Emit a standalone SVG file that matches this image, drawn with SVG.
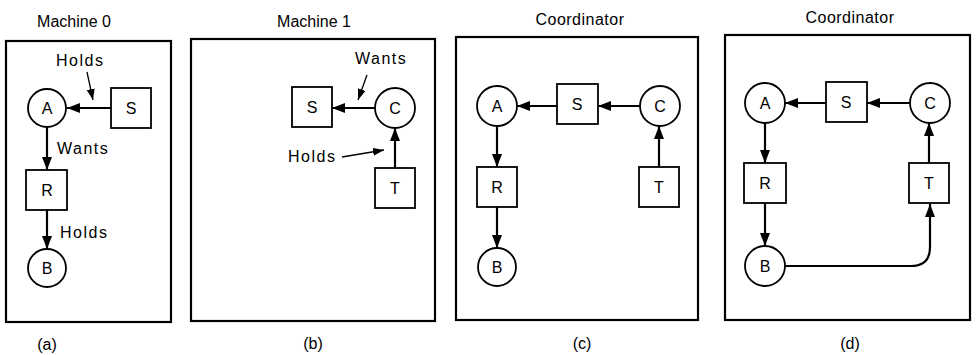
<svg xmlns="http://www.w3.org/2000/svg" width="977" height="355" viewBox="0 0 977 355">
<defs>
<marker id="ah" viewBox="0 0 13 10" refX="13" refY="5" markerWidth="13" markerHeight="10" markerUnits="userSpaceOnUse" orient="auto">
<path d="M0,0 L13,5 L0,10 Z" fill="#000"/>
</marker>
<marker id="ap" viewBox="0 0 11 8" refX="11" refY="4" markerWidth="11" markerHeight="8" markerUnits="userSpaceOnUse" orient="auto">
<path d="M0,0 L11,4 L0,8 Z" fill="#000"/>
</marker>
</defs>
<style>
text{font-family:"Liberation Sans",Arial,sans-serif;fill:#000}
.t{font-size:16px;text-anchor:middle}
.n{font-size:16px;text-anchor:middle;dominant-baseline:central}
.l{font-size:16px;letter-spacing:1.5px}
.frame{fill:#fff;stroke:#000;stroke-width:2.2}
.nd{fill:#fff;stroke:#000;stroke-width:1.8}
.e{fill:none;stroke:#000;stroke-width:2.2;marker-end:url(#ah)}
.p{fill:none;stroke:#000;stroke-width:1.3;marker-end:url(#ap)}
</style>
<rect width="977" height="355" fill="#fff"/>

<g id="panel-a">
<text class="t" x="74" y="27">Machine 0</text>
<rect class="frame" x="6" y="41" width="165" height="281"/>
<text class="t" x="47" y="350">(a)</text>
</g>
<g id="panel-b">
<text class="t" x="314" y="27">Machine 1</text>
<rect class="frame" x="191" y="39" width="244" height="282"/>
<text class="t" x="313" y="349">(b)</text>
</g>
<g id="panel-c">
<text class="t" x="580" y="25" style="letter-spacing:0.5px">Coordinator</text>
<rect class="frame" x="456" y="37" width="242" height="283"/>
<text class="t" x="582" y="349">(c)</text>
</g>
<g id="panel-d">
<text class="t" x="850" y="23" style="letter-spacing:0.5px">Coordinator</text>
<rect class="frame" x="725" y="35" width="245" height="285"/>
<text class="t" x="850" y="349">(d)</text>
</g>

<g id="connectors">
<!-- a -->
<line class="e" x1="111" y1="108" x2="67" y2="108"/>
<line class="e" x1="47" y1="127" x2="47" y2="170"/>
<line class="e" x1="47" y1="210" x2="47" y2="249"/>
<line class="p" x1="87" y1="72" x2="93" y2="100"/>
<!-- b -->
<line class="e" x1="375" y1="108" x2="332" y2="108"/>
<line class="e" x1="395" y1="168" x2="395" y2="128"/>
<line class="p" x1="367" y1="75" x2="358" y2="100"/>
<line class="p" x1="342" y1="157" x2="384" y2="150"/>
<!-- c -->
<line class="e" x1="640" y1="106" x2="598" y2="106"/>
<line class="e" x1="557" y1="106" x2="517" y2="106"/>
<line class="e" x1="497" y1="126" x2="497" y2="167"/>
<line class="e" x1="497" y1="207" x2="497" y2="248"/>
<line class="e" x1="659" y1="167" x2="659" y2="126"/>
<!-- d -->
<line class="e" x1="910" y1="103" x2="867" y2="103"/>
<line class="e" x1="826" y1="103" x2="785" y2="103"/>
<line class="e" x1="765" y1="123" x2="765" y2="163"/>
<line class="e" x1="765" y1="203" x2="765" y2="246"/>
<line class="e" x1="929" y1="163" x2="929" y2="123"/>
<path class="e" d="M785,266 L911,266 Q930,266 930,247 L930,204"/>
</g>

<g id="labels">
<text class="l" x="56" y="66">Holds</text>
<text class="l" x="57" y="154">Wants</text>
<text class="l" x="60" y="238">Holds</text>
<text class="l" x="355" y="64">Wants</text>
<text class="l" x="288" y="162">Holds</text>
</g>

<g id="a-A"><circle class="nd" cx="47" cy="108" r="19"/><text class="n" x="47" y="108">A</text></g>
<g id="a-S"><rect class="nd" x="111" y="88" width="40" height="40"/><text class="n" x="131" y="108">S</text></g>
<g id="a-R"><rect class="nd" x="26" y="170" width="41" height="40"/><text class="n" x="47" y="190">R</text></g>
<g id="a-B"><circle class="nd" cx="47" cy="268" r="19"/><text class="n" x="47" y="268">B</text></g>

<g id="b-S"><rect class="nd" x="292" y="87" width="40" height="40"/><text class="n" x="312" y="107">S</text></g>
<g id="b-C"><circle class="nd" cx="395" cy="108" r="20"/><text class="n" x="395" y="108">C</text></g>
<g id="b-T"><rect class="nd" x="375" y="168" width="40" height="40"/><text class="n" x="395" y="188">T</text></g>

<g id="c-A"><circle class="nd" cx="497" cy="106" r="20"/><text class="n" x="497" y="106">A</text></g>
<g id="c-S"><rect class="nd" x="557" y="84" width="41" height="40"/><text class="n" x="577" y="104">S</text></g>
<g id="c-C"><circle class="nd" cx="660" cy="106" r="20"/><text class="n" x="660" y="106">C</text></g>
<g id="c-R"><rect class="nd" x="477" y="167" width="40" height="40"/><text class="n" x="497" y="187">R</text></g>
<g id="c-T"><rect class="nd" x="639" y="167" width="40" height="40"/><text class="n" x="659" y="187">T</text></g>
<g id="c-B"><circle class="nd" cx="497" cy="267" r="19"/><text class="n" x="497" y="267">B</text></g>

<g id="d-A"><circle class="nd" cx="765" cy="103" r="20"/><text class="n" x="765" y="103">A</text></g>
<g id="d-S"><rect class="nd" x="826" y="82" width="41" height="40"/><text class="n" x="846" y="102">S</text></g>
<g id="d-C"><circle class="nd" cx="930" cy="103" r="20"/><text class="n" x="930" y="103">C</text></g>
<g id="d-R"><rect class="nd" x="744" y="163" width="42" height="40"/><text class="n" x="765" y="183">R</text></g>
<g id="d-T"><rect class="nd" x="909" y="163" width="40" height="40"/><text class="n" x="929" y="183">T</text></g>
<g id="d-B"><circle class="nd" cx="765" cy="266" r="20"/><text class="n" x="765" y="266">B</text></g>
</svg>
